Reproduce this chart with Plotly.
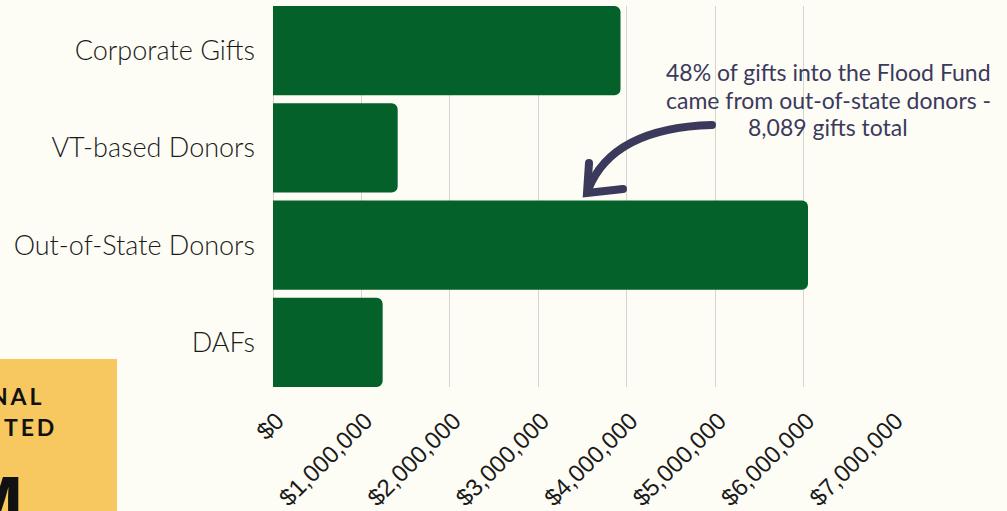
import plotly.graph_objects as go

# ---- data ----
categories = ["DAFs", "Out-of-State Donors", "VT-based Donors", "Corporate Gifts"]
amounts = [1240000, 6050000, 1410000, 3930000]
tick_values = [0, 1000000, 2000000, 3000000, 4000000, 5000000, 6000000, 7000000]
tick_labels = ["$0", "$1,000,000", "$2,000,000", "$3,000,000", "$4,000,000",
               "$5,000,000", "$6,000,000", "$7,000,000"]
note_lines = ["48% of gifts into the Flood Fund",
              "came from out-of-state donors -",
              "8,089 gifts total"]

# ---- layout geometry (pixels) ----
W, H = 1007, 511
L, R, T, B = 273, 892, 6, 387


def px(x):
    return (x - L) / (R - L)


def py(y):
    return (B - y) / (B - T)


BG = "#fdfdf6"
GREEN = "#04612a"
INK = "#3c3a5c"
GOLD = "#f7c85f"

fig = go.Figure()
fig.add_trace(go.Bar(
    x=amounts, y=categories, orientation="h",
    marker=dict(color=GREEN, cornerradius=6, line=dict(width=0)),
    hoverinfo="skip",
))

fig.update_layout(
    width=W, height=H,
    margin=dict(l=L, r=W - R, t=T, b=H - B, pad=0, autoexpand=False),
    paper_bgcolor=BG, plot_bgcolor=BG,
    showlegend=False,
    bargap=0.0825,
    xaxis=dict(
        range=[0, 7000000], tickvals=tick_values, ticktext=tick_labels,
        tickangle=-45, showgrid=True, gridcolor="#d4d4d0", gridwidth=1,
        zeroline=True, zerolinecolor="#d4d4d0", zerolinewidth=1,
        showline=False, ticks="", ticklabelstandoff=14, ticklabelshift=4,
        tickfont=dict(family="Liberation Sans, Arial, sans-serif", size=24, color="#1a1a1a"),
        fixedrange=True, automargin=False,
    ),
    yaxis=dict(
        range=[-0.4588, 3.4588], showgrid=False, zeroline=False, showline=False,
        ticks="", ticklabelstandoff=17,
        tickfont=dict(family="Lato, sans-serif", size=27, color="#1a1a1a", weight=300),
        fixedrange=True, automargin=False,
    ),
)

# annotation text, one line each
for line, yc in zip(note_lines, [72, 100, 127]):
    fig.add_annotation(
        xref="paper", yref="paper", x=px(828), y=py(yc),
        xanchor="center", yanchor="middle", showarrow=False,
        text=line,
        font=dict(family="Lato, sans-serif", size=23, color=INK),
    )

# curved arrow
fig.add_shape(
    type="path", xref="paper", yref="paper",
    path=f"M {px(712)},{py(125)} Q {px(612)},{py(128)} {px(588)},{py(190)}",
    line=dict(color=INK, width=8),
)
fig.add_shape(
    type="path", xref="paper", yref="paper",
    path=f"M {px(589)},{py(163)} L {px(587)},{py(193)} L {px(623)},{py(189)}",
    line=dict(color=INK, width=8),
)
for cx, cy in [(712, 125), (589, 163), (623, 189)]:
    fig.add_shape(
        type="circle", xref="paper", yref="paper",
        x0=px(cx - 4), x1=px(cx + 4), y0=py(cy + 4), y1=py(cy - 4),
        fillcolor=INK, line=dict(width=0),
    )

# clipped gold panel in bottom-left
fig.add_shape(
    type="rect", xref="paper", yref="paper",
    x0=px(-5), x1=px(117), y0=py(530), y1=py(359),
    fillcolor=GOLD, line=dict(width=0), layer="above",
)
fig.add_annotation(
    xref="paper", yref="paper", x=px(43), y=py(396),
    xanchor="right", yanchor="middle", showarrow=False,
    text="N\u2009A\u2009L",
    font=dict(family="Lato, sans-serif", size=23, color="#111111", weight=700),
)
fig.add_annotation(
    xref="paper", yref="paper", x=px(56), y=py(427),
    xanchor="right", yanchor="middle", showarrow=False,
    text="T\u2009E\u2009D",
    font=dict(family="Lato, sans-serif", size=23, color="#111111", weight=700),
)
fig.add_annotation(
    xref="paper", yref="paper", x=px(26), y=py(458),
    xanchor="right", yanchor="top", showarrow=False,
    text="M",
    font=dict(family="Liberation Sans Narrow, Liberation Sans, sans-serif", size=80, color="#111111", weight=700),
)

fig.write_html(
    "out.html",
    config={"displayModeBar": False, "staticPlot": True},
    post_script="document.body.style.margin='0';document.body.style.background='#fdfdf6';",
)
